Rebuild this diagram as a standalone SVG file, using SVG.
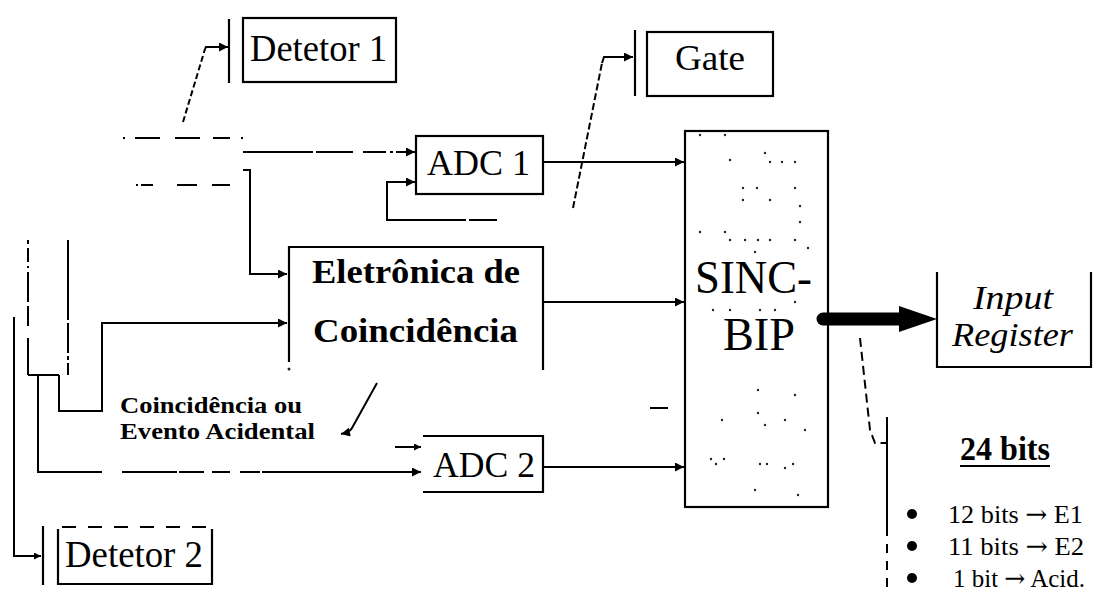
<svg xmlns="http://www.w3.org/2000/svg" width="1097" height="610" viewBox="0 0 1097 610">
<style>
.ln{fill:none;stroke:#000;stroke-width:2}
.box{fill:none;stroke:#000;stroke-width:2.2}
.t{font-family:"Liberation Serif","Times New Roman",serif;fill:#000}
.b{font-weight:bold}
.i{font-style:italic}
.dot{fill:#222}
.arr{font-family:"DejaVu Serif",serif}
</style>
<defs>
<marker id="ah" viewBox="0 0 10 10" refX="10" refY="5" markerWidth="10" markerHeight="9" markerUnits="userSpaceOnUse" orient="auto"><path d="M0,0 L10,5 L0,10 z" fill="#000"/></marker>
<marker id="ahs" viewBox="0 0 10 10" refX="10" refY="5" markerWidth="8" markerHeight="7" markerUnits="userSpaceOnUse" orient="auto"><path d="M0,0 L10,5 L0,10 z" fill="#000"/></marker>
</defs>
<rect width="1097" height="610" fill="#fff"/>

<g id="connectors">
  <path class="ln" d="M183,122 L205,49" stroke-dasharray="6,3"/>
  <path class="ln" d="M205,49 L206,47 L228,47" marker-end="url(#ah)"/>
  <path class="ln" d="M123,138 L243,138" stroke-dasharray="2,10,25,15,25,13,17,11,2"/>
  <path class="ln" d="M243,152 L415,152" stroke-dasharray="70,3,37,10,23,4,3,3,40" marker-end="url(#ah)"/>
  <path class="ln" d="M136,185 L230,185" stroke-dasharray="2,3,12,24,20,15,18"/>
  <path class="ln" d="M243,170 L250,170 L250,274 L287,274" marker-end="url(#ah)"/>
  <path class="ln" d="M497,220 L387,220 L387,182 L415,182" stroke-dasharray="28,3,200" marker-end="url(#ah)"/>
  <path class="ln" d="M543,162 L684,162" marker-end="url(#ah)"/>
  <path class="ln" d="M573,208 L602,63" stroke-dasharray="7,3"/>
  <path class="ln" d="M602,63 L604,57 L633,57" marker-end="url(#ah)"/>
  <path class="ln" d="M543,302 L684,302" marker-end="url(#ah)"/>
  <path class="ln" d="M28,240 L28,375" stroke-dasharray="4,4,14,4,2,4,30,4,20,12,200"/>
  <path class="ln" d="M28,375 L59,375"/>
  <path class="ln" d="M68,240 L68,375" stroke-dasharray="80,3,30,3,4,3,40"/>
  <path class="ln" d="M59,375 L59,411 L102,411 L102,323 L287,323" marker-end="url(#ah)"/>
  <path class="ln" d="M14,317 L14,556 L41,556" marker-end="url(#ahs)"/>
  <path class="ln" d="M38,375 L38,472 L100,472"/>
  <path class="ln" d="M100,472 L270,472" stroke-dasharray="2,20,55,2,25,8,18,10,20"/>
  <path class="ln" d="M270,472 L421,472" marker-end="url(#ah)"/>
  <path class="ln" d="M395,447 L421,447" marker-end="url(#ahs)"/>
  <path class="ln" d="M377,383 L352,428 Q350,432 341,434" marker-end="url(#ah)"/>
  <path class="ln" d="M543,467 L684,467" marker-end="url(#ah)"/>
  <path class="ln" d="M650,408 L668,408"/>
  <path d="M823,319 L903,319" stroke="#000" stroke-width="13" stroke-linecap="round" fill="none"/>
  <path d="M899,306 L937,319 L899,332 z" fill="#000"/>
  <path class="ln" d="M860,338 L870,430 L875,443 L887,443" stroke-dasharray="9,5"/>
  <path class="ln" d="M887,417 L887,527"/>
  <path class="ln" d="M887,527 L887,587" stroke-dasharray="9,8"/>
</g>

<g id="detetor1">
  <path class="box" d="M229,19 L229,83"/>
  <rect class="box" x="243" y="18" width="153" height="64"/>
  <text class="t" x="250" y="61" font-size="38" textLength="137" lengthAdjust="spacingAndGlyphs">Detetor 1</text>
</g>

<g id="gate">
  <path class="box" d="M635,30 L635,96"/>
  <rect class="box" x="647" y="32" width="126" height="64"/>
  <text class="t" x="675" y="70" font-size="36" textLength="70" lengthAdjust="spacingAndGlyphs">Gate</text>
</g>

<g id="adc1">
  <rect class="box" x="416" y="136" width="127" height="58"/>
  <text class="t" x="427" y="175" font-size="36" textLength="103" lengthAdjust="spacingAndGlyphs">ADC 1</text>
</g>

<g id="eletronica">
  <path class="box" d="M289,362 L289,247 L543,247 L543,370"/>
  <circle class="dot" cx="289" cy="369" r="1.5"/>
  <text class="t b" x="312" y="283" font-size="34" textLength="208" lengthAdjust="spacingAndGlyphs">Eletrônica de</text>
  <text class="t b" x="313" y="342" font-size="34" textLength="205" lengthAdjust="spacingAndGlyphs">Coincidência</text>
</g>

<g id="label-coincidencia">
  <text class="t b" x="120" y="413" font-size="23" textLength="182" lengthAdjust="spacingAndGlyphs">Coincidência ou</text>
  <text class="t b" x="120" y="439" font-size="23" textLength="195" lengthAdjust="spacingAndGlyphs">Evento Acidental</text>
</g>

<g id="adc2">
  <path class="box" d="M423,436 L543,436 L543,492 L423,492"/>
  <text class="t" x="433" y="477" font-size="36" textLength="102" lengthAdjust="spacingAndGlyphs">ADC 2</text>
</g>

<g id="sincbip">
  <rect class="box" x="685" y="131" width="143" height="376"/>
  <g class="dot">
    <circle cx="700" cy="135" r="1.2"/><circle cx="725" cy="135" r="1.2"/>
    <circle cx="730" cy="160" r="1.2"/><circle cx="765" cy="153" r="1.2"/><circle cx="770" cy="162" r="1.2"/><circle cx="782" cy="162" r="1.2"/><circle cx="795" cy="162" r="1.2"/>
    <circle cx="743" cy="188" r="1.2"/><circle cx="757" cy="188" r="1.2"/><circle cx="795" cy="188" r="1.2"/><circle cx="743" cy="200" r="1.2"/><circle cx="770" cy="200" r="1.2"/><circle cx="800" cy="206" r="1.2"/>
    <circle cx="700" cy="232" r="1.2"/><circle cx="725" cy="232" r="1.2"/><circle cx="730" cy="240" r="1.2"/><circle cx="745" cy="240" r="1.2"/><circle cx="758" cy="240" r="1.2"/><circle cx="770" cy="240" r="1.2"/><circle cx="795" cy="240" r="1.2"/>
    <circle cx="755" cy="252" r="1.2"/><circle cx="800" cy="222" r="1.2"/><circle cx="808" cy="248" r="1.2"/>
    <circle cx="713" cy="310" r="1.2"/><circle cx="730" cy="310" r="1.2"/><circle cx="760" cy="310" r="1.2"/><circle cx="775" cy="310" r="1.2"/><circle cx="795" cy="302" r="1.2"/>
    <circle cx="758" cy="390" r="1.2"/><circle cx="795" cy="395" r="1.2"/><circle cx="722" cy="420" r="1.2"/><circle cx="758" cy="413" r="1.2"/><circle cx="765" cy="425" r="1.2"/><circle cx="785" cy="420" r="1.2"/><circle cx="805" cy="430" r="1.2"/>
    <circle cx="711" cy="459" r="1.2"/><circle cx="716" cy="464" r="1.2"/><circle cx="724" cy="459" r="1.2"/><circle cx="760" cy="464" r="1.2"/><circle cx="767" cy="464" r="1.2"/><circle cx="785" cy="468" r="1.2"/><circle cx="793" cy="464" r="1.2"/><circle cx="755" cy="490" r="1.2"/><circle cx="798" cy="495" r="1.2"/>
  </g>
  <text class="t" x="695" y="293" font-size="46" textLength="117" lengthAdjust="spacingAndGlyphs">SINC-</text>
  <text class="t" x="723" y="350" font-size="46" textLength="72" lengthAdjust="spacingAndGlyphs">BIP</text>
</g>

<g id="input-register">
  <path class="box" d="M937,272 L937,367 L1091,367 L1091,272"/>
  <text class="t i" x="973" y="309" font-size="34" textLength="80" lengthAdjust="spacingAndGlyphs">Input</text>
  <text class="t i" x="952" y="346" font-size="34" textLength="121" lengthAdjust="spacingAndGlyphs">Register</text>
</g>

<g id="detetor2">
  <path class="box" d="M43,526 L43,585"/>
  <path class="box" d="M62,527 L210,527" stroke-dasharray="14,12"/>
  <path class="box" d="M58,529 L58,584 L212,584 L212,529"/>
  <text class="t" x="65" y="567" font-size="38" textLength="138" lengthAdjust="spacingAndGlyphs">Detetor 2</text>
</g>

<g id="bits">
  <text class="t b" x="960" y="460" font-size="33" textLength="90" lengthAdjust="spacingAndGlyphs">24 bits</text>
  <path d="M960,466 L1050,466" stroke="#000" stroke-width="2.2"/>
  <circle cx="912" cy="514" r="5"/>
  <circle cx="912" cy="546" r="5"/>
  <circle cx="912" cy="578" r="5"/>
  <text class="t" x="948" y="523" font-size="26" textLength="135" lengthAdjust="spacingAndGlyphs">12 bits <tspan class="arr">→</tspan> E1</text>
  <text class="t" x="948" y="555" font-size="26" textLength="136" lengthAdjust="spacingAndGlyphs">11 bits <tspan class="arr">→</tspan> E2</text>
  <text class="t" x="953" y="587" font-size="26" textLength="132" lengthAdjust="spacingAndGlyphs">1 bit <tspan class="arr">→</tspan> Acid.</text>
</g>
</svg>
